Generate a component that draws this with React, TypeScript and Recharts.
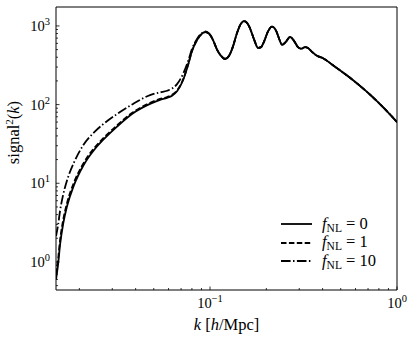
import { LineChart, Line, XAxis, YAxis, Legend, Label, ReferenceArea } from 'recharts';

// k grid [h/Mpc] shared by all three curves
const K = [
  0.01501, 0.01539, 0.01578, 0.01637, 0.01719, 0.01874, 0.02094, 0.02427, 0.02678, 0.03181,
  0.03875, 0.04775, 0.05402, 0.0589, 0.06262, 0.06659, 0.07171, 0.07624, 0.08013, 0.0852,
  0.0895, 0.094, 0.0988, 0.1038, 0.109, 0.1145, 0.1203, 0.1264, 0.1327, 0.1394,
  0.1465, 0.152, 0.1577, 0.1636, 0.1719, 0.1806, 0.1874, 0.1944, 0.2042, 0.2146,
  0.2254, 0.2339, 0.2427, 0.2549, 0.2678, 0.2813, 0.2955, 0.3066, 0.3221, 0.3342,
  0.3511, 0.3734, 0.402, 0.4548, 0.5608, 0.6911, 0.8415, 1.0,
];

// signal^2(k) for f_NL = 0
const SIGNAL_F0 = [
  0.6, 0.93, 1.68, 3.02, 5.13, 9.55, 16.6, 27.5, 35.5, 52.5,
  77.6, 102, 115, 122, 130, 148, 204, 316, 479, 661,
  776, 832, 794, 661, 501, 417, 380, 417, 550, 813,
  1072, 1148, 1096, 933, 676, 525, 537, 631, 851, 977,
  871, 692, 575, 631, 724, 646, 537, 513, 537, 525,
  468, 417, 389, 316, 219, 145, 93, 60,
];

// f_NL = 1: barely above f_NL = 0 at the largest scales
const SIGNAL_F1 = [
  0.705, 1.08, 1.91, 3.37, 5.62, 10.3, 17.6, 28.9, 37.2, 54.5,
  80.1, 105, 118, 125, 133, 151, 208, 320, 482, 661,
  776, 832, 794, 661, 501, 417, 380, 417, 550, 813,
  1072, 1148, 1096, 933, 676, 525, 537, 631, 851, 977,
  871, 692, 575, 631, 724, 646, 537, 513, 537, 525,
  468, 417, 389, 316, 219, 145, 93, 60,
];

// f_NL = 10: scale-dependent bias lifts the low-k end
const SIGNAL_F10 = [
  2.14, 2.95, 4.52, 7.08, 10.9, 18.5, 30.2, 45.7, 56.2, 75.9,
  102, 132, 143, 150, 160, 182, 245, 355, 513, 684,
  794, 851, 803, 661, 501, 417, 380, 417, 550, 813,
  1072, 1148, 1096, 933, 676, 525, 537, 631, 851, 977,
  871, 692, 575, 631, 724, 646, 537, 513, 537, 525,
  468, 417, 389, 316, 219, 145, 93, 60,
];

const X_TICKS = [
  0.02, 0.03, 0.04, 0.05, 0.06, 0.07, 0.08, 0.09, 0.1,
  0.2, 0.3, 0.4, 0.5, 0.6, 0.7, 0.8, 0.9, 1,
];
const Y_TICKS = [
  0.5, 0.6, 0.7, 0.8, 0.9, 1, 2, 3, 4, 5, 6, 7, 8, 9, 10,
  20, 30, 40, 50, 60, 70, 80, 90, 100, 200, 300, 400, 500, 600, 700, 800, 900, 1000,
];

const SERIES = [
  { key: 'f0', label: '0', dash: undefined },
  { key: 'f1', label: '1', dash: '5.5 2.4' },
  { key: 'f10', label: '10', dash: '9.6 2.4 1.5 2.4' },
];

const data = K.map((k, i) => ({ k, f0: SIGNAL_F0[i], f1: SIGNAL_F1[i], f10: SIGNAL_F10[i] }));

const FONT = '"Liberation Serif", serif';
const INK = '#000';

// true for 1, 10, 0.1 ... (the only ticks that get a label)
const decade = (v: number) => Math.abs(Math.log10(v) - Math.round(Math.log10(v))) < 1e-6;
const expText = (v: number) => {
  const e = Math.round(Math.log10(v));
  return e < 0 ? `\u2212${-e}` : `${e}`;
};

// matplotlib-style inward ticks: the tick line goes into the plot, label outside
function XTick(props: any) {
  const { x, y, payload } = props;
  const major = decade(payload.value);
  return (
    <g>
      <line x1={x} x2={x} y1={y} y2={y - (major ? 3.5 : 2)} stroke={INK} strokeWidth={0.8} />
      {major && (
        <text x={x} y={y + 18} textAnchor="middle" fontFamily={FONT} fontSize={14.5} fill={INK}>
          10<tspan dy={-6} fontSize={10.5}>{expText(payload.value)}</tspan>
        </text>
      )}
    </g>
  );
}

function YTick(props: any) {
  const { x, y, payload } = props;
  const major = decade(payload.value);
  return (
    <g>
      <line x1={x} x2={x + (major ? 3.5 : 2)} y1={y} y2={y} stroke={INK} strokeWidth={0.8} />
      {major && (
        <text x={x - 6} y={y + 5} textAnchor="end" fontFamily={FONT} fontSize={14.5} fill={INK}>
          10<tspan dy={-6} fontSize={10.5}>{expText(payload.value)}</tspan>
        </text>
      )}
    </g>
  );
}

function LegendBox() {
  return (
    <div style={{ fontFamily: FONT, fontSize: 16.5, color: INK, lineHeight: '18.5px' }}>
      {SERIES.map(s => (
        <div key={s.key} style={{ display: 'flex', alignItems: 'center', height: 18.5 }}>
          <svg width={31} height={10} style={{ marginRight: 10 }}>
            <line x1={0} x2={31} y1={5} y2={5} stroke={INK} strokeWidth={1.8} strokeDasharray={s.dash} />
          </svg>
          <span>
            <i>f</i>
            <span style={{ fontSize: 11.5, position: 'relative', top: 3 }}>NL</span>
            {` = ${s.label}`}
          </span>
        </div>
      ))}
    </div>
  );
}

export default function App() {
  return (
    <div style={{ position: 'absolute', left: 0, top: 0, width: 415, height: 338, background: '#fff' }}>
      <LineChart width={415} height={338} data={data} margin={{ top: 7, right: 18, left: 0, bottom: 0 }}>
        <XAxis
          dataKey="k"
          type="number"
          scale="log"
          domain={[0.015, 1]}
          allowDataOverflow
          ticks={X_TICKS}
          interval={0}
          height={48}
          tick={<XTick />}
          tickLine={false}
          tickSize={0}
          tickMargin={0}
          axisLine={false}
        >
          <Label
            content={(p: any) => {
              const vb = p.viewBox;
              return (
                <text x={vb.x + vb.width / 2} y={vb.y + 40} textAnchor="middle" fontFamily={FONT} fontSize={16.5} fill={INK}>
                  <tspan fontStyle="italic">k</tspan> [<tspan fontStyle="italic">h</tspan>/Mpc]
                </text>
              );
            }}
          />
        </XAxis>
        <YAxis
          type="number"
          scale="log"
          domain={[0.44, 1740]}
          allowDataOverflow
          ticks={Y_TICKS}
          interval={0}
          width={56}
          tick={<YTick />}
          tickLine={false}
          tickSize={0}
          tickMargin={0}
          axisLine={false}
        >
          <Label
            content={(p: any) => {
              const vb = p.viewBox;
              const cy = vb.y + vb.height / 2 - 16;
              return (
                <text transform={`translate(19,${cy}) rotate(-90)`} textAnchor="middle" fontFamily={FONT} fontSize={16.5} fill={INK}>
                  signal<tspan dy={-6} fontSize={11}>2</tspan><tspan dy={6}>(</tspan><tspan fontStyle="italic">k</tspan>)
                </text>
              );
            }}
          />
        </YAxis>
        <ReferenceArea x1={0.015} x2={1} y1={0.44} y2={1740} fill="none" stroke={INK} strokeWidth={1} ifOverflow="visible" />
        {SERIES.map(s => (
          <Line
            key={s.key}
            dataKey={s.key}
            type="monotone"
            stroke={INK}
            strokeWidth={1.8}
            strokeDasharray={s.dash}
            dot={false}
            activeDot={false}
            isAnimationActive={false}
          />
        ))}
        {/* vertical + centered so the legend reserves no room in the layout */}
        <Legend
          layout="vertical"
          align="center"
          verticalAlign="middle"
          content={<LegendBox />}
          wrapperStyle={{ left: 281, top: 215, width: 125 }}
        />
      </LineChart>
    </div>
  );
}
